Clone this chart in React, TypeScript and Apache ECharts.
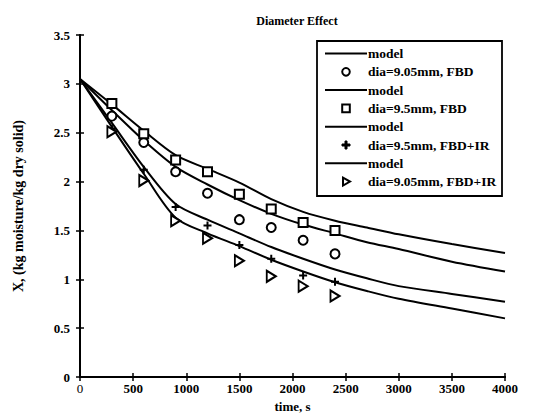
import React, { useEffect, useRef } from "react";
import * as echarts from "echarts";

const modelTimes = [0, 300, 600, 900, 1200, 1500, 1800, 2100, 2400, 2700, 3000, 3500, 4000];
const model95FBD = [3.05, 2.79, 2.52, 2.27, 2.13, 1.99, 1.82, 1.69, 1.6, 1.53, 1.46, 1.36, 1.27];
const model905FBD = [3.05, 2.73, 2.42, 2.15, 1.97, 1.81, 1.67, 1.56, 1.47, 1.38, 1.31, 1.18, 1.08];
const model95IR = [3.05, 2.6, 2.15, 1.77, 1.61, 1.47, 1.33, 1.21, 1.1, 1.01, 0.93, 0.85, 0.77];
const model905IR = [3.05, 2.56, 2.08, 1.63, 1.47, 1.34, 1.2, 1.08, 0.97, 0.88, 0.8, 0.7, 0.6];

const expTimes = [300, 600, 900, 1200, 1500, 1800, 2100, 2400];
const exp905FBD = [2.67, 2.4, 2.1, 1.88, 1.61, 1.53, 1.4, 1.26];
const exp95FBD = [2.8, 2.49, 2.22, 2.1, 1.87, 1.72, 1.58, 1.5];
const exp95IR = [2.54, 2.12, 1.74, 1.55, 1.35, 1.21, 1.04, 0.975];
const exp905IR = [2.51, 2.01, 1.6, 1.42, 1.19, 1.03, 0.93, 0.83];

const legendLabels = [
  "model",
  "dia=9.05mm, FBD",
  "model",
  "dia=9.5mm, FBD",
  "model",
  "dia=9.5mm, FBD+IR",
  "model",
  "dia=9.05mm, FBD+IR",
];

const FONT = "'Liberation Serif', 'Times New Roman', serif";
const TRI = "path://M0,0 L10,6 L0,12 Z";
const PLUS = "path://M3,0 L5,0 L5,3 L8,3 L8,5 L5,5 L5,8 L3,8 L3,5 L0,5 L0,3 L3,3 Z";

const pairs = (xs: number[], ys: number[]) => xs.map((x, i) => [x, ys[i]]);

export default function App() {
  const ref = useRef<HTMLDivElement>(null);
  useEffect(() => {
    if (!ref.current) return;
    const chart = echarts.init(ref.current, null, { renderer: "svg" });

    const lineSeries = (data: number[]) => ({
      type: "line",
      data: pairs(modelTimes, data),
      smooth: 0.3,
      showSymbol: false,
      symbol: "none",
      lineStyle: { color: "#000", width: 2 },
      emphasis: { disabled: true },
      z: 2,
    });
    const hollow = { color: "#fff", borderColor: "#000", borderWidth: 2, opacity: 1 };
    const scatter = (data: number[], symbol: string, size: any, style: any) => ({
      type: "scatter",
      data: pairs(expTimes, data),
      symbol,
      symbolSize: size,
      itemStyle: style,
      emphasis: { disabled: true },
      z: 3,
    });

    // legend graphics
    const lx = 317, ly = 41, lw = 185, lh = 155;
    const rowY = (i: number) => ly + 12.5 + i * 18.3;
    const legendEls: any[] = [
      { type: "rect", shape: { x: lx, y: ly, width: lw, height: lh }, style: { fill: "#fff", stroke: "#000", lineWidth: 1.8 }, z: 10 },
    ];
    const markerFor = (k: number, cy: number): any => {
      const cx = 346;
      if (k === 0) return { type: "circle", shape: { cx, cy, r: 3.8 }, style: { fill: "#fff", stroke: "#000", lineWidth: 2 }, z: 11 };
      if (k === 1) return { type: "rect", shape: { x: cx - 3.8, y: cy - 3.8, width: 7.6, height: 7.6 }, style: { fill: "#fff", stroke: "#000", lineWidth: 2 }, z: 11 };
      if (k === 2)
        return {
          type: "polygon",
          shape: { points: [[cx - 1, cy - 4], [cx + 1, cy - 4], [cx + 1, cy - 1], [cx + 4, cy - 1], [cx + 4, cy + 1], [cx + 1, cy + 1], [cx + 1, cy + 4], [cx - 1, cy + 4], [cx - 1, cy + 1], [cx - 4, cy + 1], [cx - 4, cy - 1], [cx - 1, cy - 1]] },
          style: { fill: "#000", stroke: "#000", lineWidth: 1 },
          z: 11,
        };
      return { type: "polygon", shape: { points: [[cx - 3, cy - 4], [cx + 4, cy], [cx - 3, cy + 4]] }, style: { fill: "#fff", stroke: "#000", lineWidth: 2 }, z: 11 };
    };
    legendLabels.forEach((label, i) => {
      const cy = rowY(i);
      if (i % 2 === 0) {
        legendEls.push({ type: "line", shape: { x1: 325, y1: cy, x2: 367, y2: cy }, style: { stroke: "#000", lineWidth: 2 }, z: 11 });
      } else {
        legendEls.push(markerFor((i - 1) / 2, cy));
      }
      legendEls.push({
        type: "text",
        x: 368,
        y: cy,
        style: { text: label, font: `bold 13.5px ${FONT}`, fill: "#000", verticalAlign: "middle" },
        z: 11,
      });
    });

    const axisFont = { fontFamily: FONT, fontWeight: "bold", fontSize: 13, color: "#000" };

    chart.setOption({
      animation: false,
      backgroundColor: "#fff",
      title: {
        text: "Diameter Effect",
        left: 292,
        top: 10,
        textAlign: "center",
        textStyle: { fontFamily: FONT, fontWeight: "bold", fontSize: 12, color: "#000" },
      },
      grid: { left: 80, right: 31, top: 35, bottom: 36, outerBoundsMode: "none", containLabel: false },
      xAxis: [
        {
          type: "value",
          min: 0,
          max: 4000,
          interval: 500,
          position: "bottom",
          name: "time, s",
          nameLocation: "middle",
          nameGap: 17,
          nameTextStyle: axisFont,
          axisLine: { lineStyle: { color: "#000", width: 2 } },
          axisTick: { inside: true, length: 4, lineStyle: { color: "#000", width: 1.5 } },
          axisLabel: {
            color: "#000",
            fontFamily: FONT,
            fontSize: 13,
            margin: 5,
            formatter: (v: number) => (v === 0 ? "{n|0}" : "{b|" + v + "}"),
            rich: {
              n: { fontFamily: FONT, fontWeight: "normal", fontSize: 13, color: "#000" },
              b: { fontFamily: FONT, fontWeight: "bold", fontSize: 13, color: "#000" },
            },
          },
          splitLine: { show: false },
        },
        {
          type: "value",
          min: 0,
          max: 4000,
          interval: 500,
          position: "top",
          axisLine: { lineStyle: { color: "#000", width: 2 } },
          axisTick: { inside: true, length: 4, lineStyle: { color: "#000", width: 1.5 } },
          axisLabel: { show: false },
          splitLine: { show: false },
        },
      ],
      yAxis: [
        {
          type: "value",
          min: 0,
          max: 3.5,
          interval: 0.5,
          position: "left",
          name: "X, (kg moisture/kg dry solid)",
          nameLocation: "middle",
          nameGap: 55,
          nameTextStyle: { ...axisFont, fontSize: 14 },
          axisLine: { show: true, lineStyle: { color: "#000", width: 2 } },
          axisTick: { show: true, inside: true, length: 4, lineStyle: { color: "#000", width: 1.5 } },
          axisLabel: { ...axisFont, margin: 10 },
          splitLine: { show: false },
        },
        {
          type: "value",
          min: 0,
          max: 3.5,
          interval: 0.5,
          position: "right",
          axisLine: { show: true, lineStyle: { color: "#000", width: 2 } },
          axisTick: { show: true, inside: true, length: 4, lineStyle: { color: "#000", width: 1.5 } },
          axisLabel: { show: false },
          splitLine: { show: false },
        },
      ],
      series: [
        lineSeries(model905FBD),
        scatter(exp905FBD, "circle", 9, hollow),
        lineSeries(model95FBD),
        scatter(exp95FBD, "rect", 9, hollow),
        lineSeries(model95IR),
        scatter(exp95IR, PLUS, 8, { color: "#000", opacity: 1 }),
        lineSeries(model905IR),
        scatter(exp905IR, TRI, [9, 11], hollow),
      ],
      graphic: legendEls,
    });
    return () => chart.dispose();
  }, []);
  return <div ref={ref} style={{ width: 536, height: 413, position: "absolute", left: 0, top: 0 }} />;
}
